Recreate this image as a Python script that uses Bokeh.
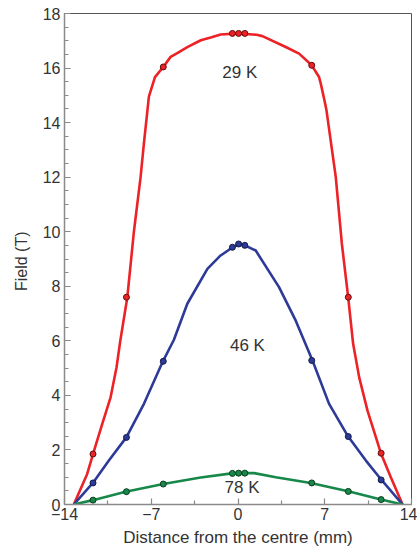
from bokeh.plotting import figure
from bokeh.models import FixedTicker, Range1d
from bokeh.embed import file_html
from bokeh.resources import INLINE
from bokeh.core.properties import value

# ---- data ----
x_ticks = [-14, -7, 0, 7, 14]
x_minor = [-10.5, -3.5, 3.5, 10.5]
y_ticks = [0, 2, 4, 6, 8, 10, 12, 14, 16, 18]

marker_x = [-11.7, -9.0, -6.03, -0.45, 0.05, 0.55, 5.95, 8.9, 11.55]
red_y = [1.85, 7.6, 16.04, 17.27, 17.27, 17.27, 16.1, 7.6, 1.88]
blue_y = [0.79, 2.46, 5.25, 9.43, 9.55, 9.5, 5.28, 2.49, 0.9]
green_y = [0.16, 0.47, 0.75, 1.14, 1.15, 1.15, 0.79, 0.48, 0.18]

red_line_x = [-13.25, -12.17, -11.7, -10.96, -10.28, -9.8, -9.5, -8.93, -8.4, -7.86, -7.6, -7.19,
              -6.7, -6.03, -5.44, -4.9, -4.09, -3.0, -2.2, -1.4, 0.0, 1.5, 1.97, 3.85, 4.93, 5.95,
              6.54, 6.68, 7.03, 7.14, 7.89, 8.38, 8.89, 9.29, 9.78, 10.45, 11.53, 12.33, 13.28]
red_line_y = [0.0, 1.12, 1.85, 2.95, 3.93, 5.03, 6.0, 7.6, 10.0, 12.0, 13.2, 14.95,
              15.67, 16.04, 16.41, 16.55, 16.77, 17.02, 17.12, 17.23, 17.27, 17.22, 17.17, 16.77, 16.53, 16.1,
              15.67, 15.43, 14.7, 14.45, 12.0, 9.56, 7.6, 5.89, 4.66, 3.44, 1.88, 1.0, 0.0]

blue_line_x = [-13.25, -11.71, -10.42, -9.01, -7.59, -6.06, -5.17, -4.09, -2.47, -1.4, -0.4, 0.05,
               0.55, 1.43, 3.31, 4.66, 6.01, 7.35, 8.89, 10.32, 11.58, 13.28]
blue_line_y = [0.0, 0.79, 1.61, 2.46, 3.69, 5.25, 6.04, 7.36, 8.64, 9.13, 9.44, 9.53,
               9.5, 9.31, 7.97, 6.74, 5.28, 3.69, 2.49, 1.61, 0.9, 0.0]

green_line_x = [-13.25, -11.71, -9.07, -6.03, -3.01, -0.5, 0.05, 1.3, 3.05, 5.87, 8.97, 11.53, 13.28]
green_line_y = [0.0, 0.16, 0.47, 0.75, 0.99, 1.14, 1.15, 1.15, 1.0, 0.79, 0.48, 0.18, 0.0]

label_text = ["29 K", "46 K", "78 K"]
label_x = [0.15, 0.76, 0.33]
label_y = [15.85, 5.83, 0.63]

RED = "#ec2227"
BLUE = "#2d3a98"
GREEN = "#17884a"
FONT = "Liberation Sans"

p = figure(width=417, height=550, output_backend="svg", toolbar_location=None,
           x_range=Range1d(-14, 14), y_range=Range1d(0, 18),
           min_border_left=64, min_border_right=6, min_border_top=13, min_border_bottom=46)
p.background_fill_color = "white"
p.border_fill_color = "white"
p.outline_line_color = "#555555"
p.outline_line_width = 1
p.grid.visible = False

for ax in (p.xaxis[0], p.yaxis[0]):
    ax.axis_line_color = "#8a8a8a"
    ax.axis_line_width = 1.5
    ax.major_tick_line_color = "#8a8a8a"
    ax.minor_tick_line_color = "#8a8a8a"
    ax.major_tick_line_width = 1.2
    ax.minor_tick_line_width = 1.2
    ax.major_tick_in = 6
    ax.major_tick_out = 0
    ax.minor_tick_in = 4
    ax.minor_tick_out = 0
    ax.major_label_text_font = FONT
    ax.major_label_text_font_size = "16px"
    ax.major_label_text_color = "#333333"
    ax.axis_label_text_font = FONT
    ax.axis_label_text_font_style = "normal"
    ax.axis_label_text_color = "#333333"

p.xaxis.ticker = FixedTicker(ticks=x_ticks, minor_ticks=x_minor)
p.xaxis.major_label_overrides = {-14: "\u221214", -7: "\u22127"}
p.yaxis.ticker = FixedTicker(ticks=y_ticks, minor_ticks=[v / 2 for v in range(0, 37)])
p.xaxis.axis_label = "Distance from the centre (mm)"
p.yaxis.axis_label = "Field  (T)"
p.xaxis.axis_label_text_font_size = "17px"
p.yaxis.axis_label_text_font_size = "16px"
p.xaxis.major_label_standoff = 3
p.xaxis.axis_label_standoff = 5
p.yaxis.major_label_standoff = 4
p.yaxis.axis_label_standoff = 10

for lx, ly, my, col, edge in [(red_line_x, red_line_y, red_y, RED, "#5a1212"),
                               (blue_line_x, blue_line_y, blue_y, BLUE, "#141a45"),
                               (green_line_x, green_line_y, green_y, GREEN, "#0d3a20")]:
    p.line(lx, ly, line_color=col, line_width=2.6, line_join="round")
    p.scatter(marker_x, my, size=6, fill_color=col, line_color=edge, line_width=1)

p.text(label_x, label_y, text=label_text, text_font=value(FONT), text_font_size="17px",
       text_color="#333333", text_align="center", text_baseline="middle")

open("out.html", "w").write(file_html(p, INLINE))
